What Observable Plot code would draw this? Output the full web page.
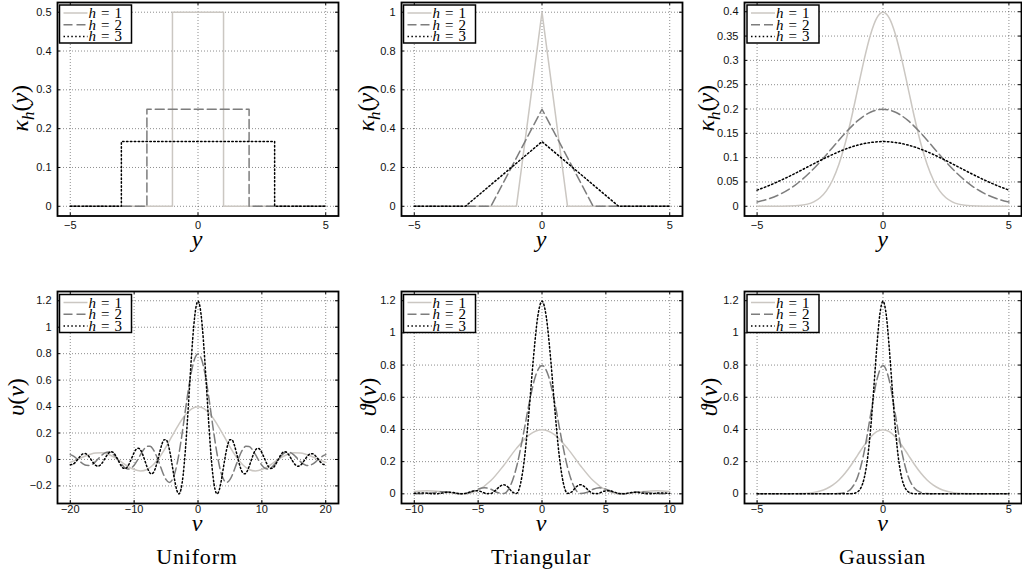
<!DOCTYPE html>
<html><head><meta charset="utf-8">
<script src="https://cdn.jsdelivr.net/npm/d3@7"></script>
<script src="https://cdn.jsdelivr.net/npm/@observablehq/plot@0.6"></script>
<style>
html,body{margin:0;padding:0;width:1022px;height:572px;overflow:hidden;background:#fff;}
#wrap{position:relative;width:1022px;height:572px;overflow:hidden;}
</style></head><body><div id="wrap"></div>
<script>
// ---------- DATA ----------
const bandwidths = ["1", "2", "3"];
const columnTitles = ["Uniform", "Triangular", "Gaussian"];

// Top row: kernels kappa_h(y)
const kerU_x1 = [-5,-1,-1,1,1,5],  kerU_v1 = [0,0,0.5,0.5,0,0];
const kerU_x2 = [-5,-2,-2,2,2,5],  kerU_v2 = [0,0,0.25,0.25,0,0];
const kerU_x3 = [-5,-3,-3,3,3,5],  kerU_v3 = [0,0,0.1667,0.1667,0,0];

const kerT_x1 = [-5,-1,0,1,5], kerT_v1 = [0,0,1,0,0];
const kerT_x2 = [-5,-2,0,2,5], kerT_v2 = [0,0,0.5,0,0];
const kerT_x3 = [-5,-3,0,3,5], kerT_v3 = [0,0,0.3333,0,0];

const kerG_x1 = [-5,-4.5,-4,-3.75,-3.5,-3.25,-3,-2.75,-2.5,-2.25,-2,-1.75,-1.5,-1.25,-1,-0.75,-0.5,-0.25,0,0.25,0.5,0.75,1,1.25,1.5,1.75,2,2.25,2.5,2.75,3,3.25,3.5,3.75,4,4.5,5];
const kerG_v1 = [0.0000,0.0000,0.0001,0.0004,0.0009,0.0020,0.0044,0.0091,0.0175,0.0317,0.0540,0.0863,0.1295,0.1826,0.2420,0.3011,0.3521,0.3867,0.3989,0.3867,0.3521,0.3011,0.2420,0.1826,0.1295,0.0863,0.0540,0.0317,0.0175,0.0091,0.0044,0.0020,0.0009,0.0004,0.0001,0.0000,0.0000];
const kerG_x2 = [-5,-4.5,-4,-3.5,-3,-2.5,-2,-1.5,-1,-0.5,0,0.5,1,1.5,2,2.5,3,3.5,4,4.5,5];
const kerG_v2 = [0.0088,0.0159,0.0270,0.0431,0.0648,0.0913,0.1210,0.1506,0.1760,0.1933,0.1995,0.1933,0.1760,0.1506,0.1210,0.0913,0.0648,0.0431,0.0270,0.0159,0.0088];
const kerG_x3 = [-5,-4.5,-4,-3.5,-3,-2.5,-2,-1.5,-1,-0.5,0,0.5,1,1.5,2,2.5,3,3.5,4,4.5,5];
const kerG_v3 = [0.0332,0.0432,0.0547,0.0673,0.0807,0.0940,0.1065,0.1174,0.1258,0.1311,0.1330,0.1311,0.1258,0.1174,0.1065,0.0940,0.0807,0.0673,0.0547,0.0432,0.0332];

// Bottom row: transforms theta(nu)
const ftU_x1 = [-20,-19,-18,-17,-16,-15,-14,-13,-12,-11,-10,-9,-8,-7,-6,-5,-4,-3,-2,-1,0,1,2,3,4,5,6,7,8,9,10,11,12,13,14,15,16,17,18,19,20];
const ftU_v1 = [-0.0217,-0.0032,0.0183,0.0375,0.0493,0.0499,0.0374,0.0132,-0.0186,-0.0512,-0.0765,-0.0867,-0.0755,-0.0400,0.0188,0.0955,0.1814,0.2653,0.3357,0.3825,0.3989,0.3825,0.3357,0.2653,0.1814,0.0955,0.0188,-0.0400,-0.0755,-0.0867,-0.0765,-0.0512,-0.0186,0.0132,0.0374,0.0499,0.0493,0.0375,0.0183,-0.0032,-0.0217];
const ftU_x2 = [-20,-19.5,-19,-18.5,-18,-17.5,-17,-16.5,-16,-15.5,-15,-14.5,-14,-13.5,-13,-12.5,-12,-11.5,-11,-10.5,-10,-9.5,-9,-8.5,-8,-7.5,-7,-6.5,-6,-5.5,-5,-4.5,-4,-3.5,-3,-2.5,-2,-1.5,-1,-0.5,0,0.5,1,1.5,2,2.5,3,3.5,4,4.5,5,5.5,6,6.5,7,7.5,8,8.5,9,9.5,10,10.5,11,11.5,12,12.5,13,13.5,14,14.5,15,15.5,16,16.5,17,17.5,18,18.5,19,19.5,20];
const ftU_v2 = [0.0364,0.0248,0.0063,-0.0148,-0.0333,-0.0445,-0.0451,-0.0344,-0.0144,0.0106,
0.0346,0.0514,0.0565,0.0475,0.0258,-0.0042,-0.0357,-0.0608,-0.0725,-0.0668,
-0.0434,-0.0063,0.0365,0.0750,0.0987,0.0998,0.0749,0.0264,-0.0372,-0.1024,
-0.1530,-0.1733,-0.1510,-0.0800,0.0375,0.1910,0.3628,0.5306,0.6714,0.7650,
0.7979,
0.7650,0.6714,0.5306,0.3628,0.1910,0.0375,-0.0800,-0.1510,-0.1733,-0.1530,
-0.1024,-0.0372,0.0264,0.0749,0.0998,0.0987,0.0750,0.0365,-0.0063,-0.0434,
-0.0668,-0.0725,-0.0608,-0.0357,-0.0042,0.0258,0.0475,0.0565,0.0514,0.0346,
0.0106,-0.0144,-0.0344,-0.0451,-0.0445,-0.0333,-0.0148,0.0063,0.0248,0.0364];
const ftU_x3 = [-20,-19.667,-19.333,-19,-18.667,-18.333,-18,-17.667,-17.333,-17,-16.667,-16.333,-16,-15.667,-15.333,-15,-14.667,-14.333,-14,-13.667,-13.333,-13,-12.667,-12.333,-12,-11.667,-11.333,-11,-10.667,-10.333,-10,-9.667,-9.333,-9,-8.667,-8.333,-8,-7.667,-7.333,-7,-6.667,-6.333,-6,-5.667,-5.333,-5,-4.667,-4.333,-4,-3.667,-3.333,-3,-2.667,-2.333,-2,-1.667,-1.333,-1,-0.667,-0.333,
0,0.333,0.667,1,1.333,1.667,2,2.333,2.667,3,3.333,3.667,4,4.333,4.667,5,5.333,5.667,6,6.333,6.667,7,7.333,7.667,8,8.333,8.667,9,9.333,9.667,10,10.333,10.667,11,11.333,11.667,12,12.333,12.667,13,13.333,13.667,14,14.333,14.667,15,15.333,15.667,16,16.333,16.667,17,17.333,17.667,18,18.333,18.667,19,19.333,19.667,20];
const ftU_v3 = [-0.0394,-0.0382,-0.0274,-0.0094,0.0116,0.0305,0.0424,0.0442,0.0351,0.0169,
-0.0063,-0.0289,-0.0452,-0.0508,-0.0440,-0.0259,-0.0005,0.0262,0.0477,0.0582,
0.0546,0.0372,0.0094,-0.0222,-0.0499,-0.0667,-0.0677,-0.0517,-0.0215,0.0159,
0.0519,0.0772,0.0847,0.0713,0.0387,-0.0064,-0.0535,-0.0911,-0.1088,-0.1003,
-0.0651,-0.0095,0.0548,0.1124,0.1480,0.1497,0.1123,0.0396,-0.0557,-0.1535,
-0.2295,-0.2600,-0.2264,-0.1200,0.0563,0.2865,0.5441,0.7959,1.0071,1.1476,
1.1968,
1.1476,1.0071,0.7959,0.5441,0.2865,0.0563,-0.1200,-0.2264,-0.2600,
-0.2295,-0.1535,-0.0557,0.0396,0.1123,0.1497,0.1480,0.1124,0.0548,-0.0095,
-0.0651,-0.1003,-0.1088,-0.0911,-0.0535,-0.0064,0.0387,0.0713,0.0847,0.0772,
0.0519,0.0159,-0.0215,-0.0517,-0.0677,-0.0667,-0.0499,-0.0222,0.0094,0.0372,
0.0546,0.0582,0.0477,0.0262,-0.0005,-0.0259,-0.0440,-0.0508,-0.0452,-0.0289,
-0.0063,0.0169,0.0351,0.0442,0.0424,0.0305,0.0116,-0.0094,-0.0274,-0.0382,-0.0394];

const ftT_x1 = [-10,-9,-8,-7,-6,-5,-4,-3,-2,-1,0,1,2,3,4,5,6,7,8,9,10];
const ftT_v1 = [0.0147,0.0188,0.0143,0.0040,0.0009,0.0229,0.0825,0.1764,0.2825,0.3668,0.3989,0.3668,0.2825,0.1764,0.0825,0.0229,0.0009,0.0040,0.0143,0.0188,0.0147];
const ftT_x2 = [-10,-9.5,-9,-8.5,-8,-7.5,-7,-6.5,-6,-5.5,-5,-4.5,-4,-3.5,-3,-2.5,-2,-1.5,-1,-0.5,0,0.5,1,1.5,2,2.5,3,3.5,4,4.5,5,5.5,6,6.5,7,7.5,8,8.5,9,9.5,10];
const ftT_v2 = [0.0024,0.0000,0.0017,0.0070,0.0122,0.0125,0.0070,0.0009,0.0017,0.0131,0.0293,0.0377,0.0286,0.0080,0.0018,0.0457,0.1649,0.3528,0.5650,0.7336,
0.7979,
0.7336,0.5650,0.3528,0.1649,0.0457,0.0018,0.0080,0.0286,0.0377,0.0293,0.0131,0.0017,0.0009,0.0070,0.0125,0.0122,0.0070,0.0017,0.0000,0.0024];
const ftT_x3 = [-10,-9.667,-9.333,-9,-8.667,-8.333,-8,-7.667,-7.333,-7,-6.667,-6.333,-6,-5.667,-5.333,-5,-4.667,-4.333,-4,-3.667,-3.333,-3,-2.667,-2.333,-2,-1.667,-1.333,-1,-0.667,-0.333,
0,0.333,0.667,1,1.333,1.667,2,2.333,2.667,3,3.333,3.667,4,4.333,4.667,5,5.333,5.667,6,6.333,6.667,7,7.333,7.667,8,8.333,8.667,9,9.333,9.667,10];
const ftT_v3 = [0.0023,0.0050,0.0060,0.0042,0.0013,0.0000,0.0024,0.0069,0.0099,0.0084,0.0035,0.0001,0.0025,0.0106,0.0183,0.0187,0.0105,0.0013,0.0026,0.0197,0.0440,0.0565,0.0428,0.0120,0.0026,0.0686,0.2474,0.5293,0.8474,1.1004,
1.1968,
1.1004,0.8474,0.5293,0.2474,0.0686,0.0026,0.0120,0.0428,0.0565,0.0440,0.0197,0.0026,0.0013,0.0105,0.0187,0.0183,0.0106,0.0025,0.0001,0.0035,0.0084,0.0099,0.0069,0.0024,0.0000,0.0013,0.0042,0.0060,0.0050,0.0023];

const ftG_x1 = [-5,-4.5,-4,-3.75,-3.5,-3.25,-3,-2.75,-2.5,-2.25,-2,-1.75,-1.5,-1.25,-1,-0.75,-0.5,-0.25,0,0.25,0.5,0.75,1,1.25,1.5,1.75,2,2.25,2.5,2.75,3,3.25,3.5,3.75,4,4.5,5];
const ftG_v1 = [0.0000,0.0000,0.0001,0.0004,0.0009,0.0020,0.0044,0.0091,0.0175,0.0317,0.0540,0.0863,0.1295,0.1826,0.2420,0.3011,0.3521,0.3867,0.3989,0.3867,0.3521,0.3011,0.2420,0.1826,0.1295,0.0863,0.0540,0.0317,0.0175,0.0091,0.0044,0.0020,0.0009,0.0004,0.0001,0.0000,0.0000];
const ftG_x2 = [-5,-4,-3,-2.5,-2,-1.75,-1.5,-1.25,-1,-0.75,-0.5,-0.25,0,0.25,0.5,0.75,1,1.25,1.5,1.75,2,2.5,3,4,5];
const ftG_v2 = [0,0,0,0.0000,0.0003,0.0017,0.0089,0.0351,0.1080,0.2591,0.4839,0.7041,0.7979,0.7041,0.4839,0.2591,0.1080,0.0351,0.0089,0.0017,0.0003,0.0000,0,0,0];
const ftG_x3 = [-5,-4,-3,-2,-1.5,-1.25,-1.125,-1,-0.875,-0.75,-0.625,-0.5,-0.375,-0.25,-0.125,0,0.125,0.25,0.375,0.5,0.625,0.75,0.875,1,1.125,1.25,1.5,2,3,4,5];
const ftG_v3 = [0,0,0,0,0.0000,0.0011,0.0040,0.0133,0.0382,0.0953,0.2063,0.3886,0.6356,0.9034,1.1156,1.1968,1.1156,0.9034,0.6356,0.3886,0.2063,0.0953,0.0382,0.0133,0.0040,0.0011,0.0000,0,0,0,0];

// Tick values
const xTicks5 = [-5,0,5], xTicks10 = [-10,-5,0,5,10], xTicks20 = [-20,-10,0,10,20];
const yTicksUK = [0,0.1,0.2,0.3,0.4,0.5];
const yTicksTK = [0,0.2,0.4,0.6,0.8,1];
const yTicksGK = [0,0.05,0.1,0.15,0.2,0.25,0.3,0.35,0.4];
const yTicksUF = [-0.2,0,0.2,0.4,0.6,0.8,1,1.2];
const yTicksF = [0,0.2,0.4,0.6,0.8,1,1.2];

// ---------- LAYOUT / STYLE ----------
const colLeft = [56.5, 400.5, 744], colWidth = [281, 281, 277];
const rowTop = [1.5, 291], rowHeight = [213.5, 212];
const lineStyles = [
  {stroke: "#cbc7c2", dash: null},
  {stroke: "#7d7d7d", dash: "9,4"},
  {stroke: "#000000", dash: "1.5,2.4"}
];
const serif = "'Liberation Serif','Times New Roman',serif";
const table = (xs, vs) => xs.map((x, i) => ({x, v: vs[i]}));
const fmt = d => (d < 0 ? "\u2212" : "") + String(Math.abs(d));

const panels = [
  {xs:[kerU_x1,kerU_x2,kerU_x3], vs:[kerU_v1,kerU_v2,kerU_v3], xd:[-5.5,5.5], yd:[-0.025,0.525], xt:xTicks5, yt:yTicksUK, curve:"linear", yl:[["κ","i"],["h","sub"],["(",""],["y","i"],[")",""]], xl:"y", yoff:-37},
  {xs:[kerT_x1,kerT_x2,kerT_x3], vs:[kerT_v1,kerT_v2,kerT_v3], xd:[-5.5,5.5], yd:[-0.05,1.05], xt:xTicks5, yt:yTicksTK, curve:"linear", yl:[["κ","i"],["h","sub"],["(",""],["y","i"],[")",""]], xl:"y", yoff:-35},
  {xs:[kerG_x1,kerG_x2,kerG_x3], vs:[kerG_v1,kerG_v2,kerG_v3], xd:[-5.5,5.5], yd:[-0.02,0.419], xt:xTicks5, yt:yTicksGK, curve:"monotone-x", yl:[["κ","i"],["h","sub"],["(",""],["y","i"],[")",""]], xl:"y", yoff:-38},
  {xs:[ftU_x1,ftU_x2,ftU_x3], vs:[ftU_v1,ftU_v2,ftU_v3], xd:[-22,22], yd:[-0.333,1.27], xt:xTicks20, yt:yTicksUF, curve:"monotone-x", yl:[["υ","i"],["(",""],["ν","i"],[")",""]], xl:"ν", yoff:-41},
  {xs:[ftT_x1,ftT_x2,ftT_x3], vs:[ftT_v1,ftT_v2,ftT_v3], xd:[-11,11], yd:[-0.06,1.257], xt:xTicks10, yt:yTicksF, curve:"monotone-x", yl:[["ϑ","i"],["(",""],["ν","i"],[")",""]], xl:"ν", yoff:-33},
  {xs:[ftG_x1,ftG_x2,ftG_x3], vs:[ftG_v1,ftG_v2,ftG_v3], xd:[-5.5,5.5], yd:[-0.06,1.257], xt:xTicks5, yt:yTicksF, curve:"monotone-x", yl:[["ϑ","i"],["(",""],["ν","i"],[")",""]], xl:"ν", yoff:-35}
];

const wrap = document.getElementById("wrap");
const ml = 48, mr = 6, mt = 6, mb = 26;

panels.forEach((p, i) => {
  const col = i % 3, row = Math.floor(i / 3);
  const L = colLeft[col], W = colWidth[col], T = rowTop[row], H = rowHeight[row];
  const marks = [
    Plot.gridX({ticks: p.xt, stroke: "#000", strokeOpacity: 0.5, strokeWidth: 0.9, strokeDasharray: "1,2"}),
    Plot.gridY({ticks: p.yt, stroke: "#000", strokeOpacity: 0.5, strokeWidth: 0.9, strokeDasharray: "1,2"})
  ];
  p.xs.forEach((xs, j) => {
    marks.push(Plot.line(table(xs, p.vs[j]), {
      x: "x", y: "v", curve: p.curve,
      stroke: lineStyles[j].stroke, strokeWidth: 1.5,
      strokeDasharray: lineStyles[j].dash
    }));
  });
  marks.push(
    Plot.tickX(p.xt, {x: d => d, insetTop: H - 3, stroke: "#000"}),
    Plot.tickX(p.xt, {x: d => d, insetBottom: H - 3, stroke: "#000"}),
    Plot.tickY(p.yt, {y: d => d, insetRight: W - 3, stroke: "#000"}),
    Plot.tickY(p.yt, {y: d => d, insetLeft: W - 3, stroke: "#000"}),
    Plot.frame({stroke: "#000", strokeWidth: 1.8}),
    Plot.axisX({ticks: p.xt, tickSize: 0, tickPadding: row === 0 ? 5 : 2, tickFormat: fmt, fill: "#111"}),
    Plot.axisY({ticks: p.yt, tickSize: 0, tickPadding: 6, tickFormat: fmt, fill: "#111"})
  );
  const svg = Plot.plot({
    width: ml + W + mr, height: mt + H + mb,
    marginLeft: ml, marginRight: mr, marginTop: mt, marginBottom: mb,
    x: {domain: p.xd, label: null},
    y: {domain: p.yd, label: null},
    style: {fontFamily: "'Liberation Sans', Arial, sans-serif", fontSize: "11px", background: "transparent", overflow: "visible", maxWidth: "none"},
    marks
  });
  svg.style.position = "absolute";
  svg.style.left = (L - ml) + "px";
  svg.style.top = (T - mt) + "px";
  wrap.appendChild(svg);
});

// ---------- overlay: labels, legends, titles ----------
const ov = d3.select(wrap).append("svg")
  .attr("width", 1022).attr("height", 572)
  .style("position", "absolute").style("left", "0px").style("top", "0px")
  .style("overflow", "visible").style("pointer-events", "none");

panels.forEach((p, i) => {
  const col = i % 3, row = Math.floor(i / 3);
  const L = colLeft[col], W = colWidth[col], T = rowTop[row], H = rowHeight[row];
  const cx = L + W / 2;
  // y label
  const t = ov.append("text")
    .attr("transform", `translate(${L + p.yoff},${T + H / 2}) rotate(-90)`)
    .attr("y", 8).attr("text-anchor", "middle")
    .attr("font-family", serif).attr("font-size", 24).attr("fill", "#000");
  let prevSub = false;
  p.yl.forEach(([s, st]) => {
    const ts = t.append("tspan").text(s);
    if (st === "i") ts.attr("font-style", "italic");
    if (st === "sub") { ts.attr("font-style", "italic").attr("font-size", 17).attr("dy", 6); }
    if (prevSub) ts.attr("dy", -6);
    prevSub = st === "sub";
  });
  // x label
  ov.append("text")
    .attr("x", cx).attr("y", T + H + (row === 0 ? 32 : 28))
    .attr("text-anchor", "middle").attr("font-family", serif).attr("font-style", "italic")
    .attr("font-size", 24).attr("fill", "#000").text(p.xl);
  // legend
  const g = ov.append("g").attr("transform", `translate(${L + 3},${T + 3.5})`);
  g.append("rect").attr("width", 72).attr("height", 38)
    .attr("fill", "#fff").attr("stroke", "#000").attr("stroke-width", 1.5);
  bandwidths.forEach((b, j) => {
    const yy = 8 + j * 11.7;
    g.append("line").attr("x1", 4).attr("x2", 28).attr("y1", yy).attr("y2", yy)
      .attr("stroke", lineStyles[j].stroke).attr("stroke-width", 1.5)
      .attr("stroke-dasharray", lineStyles[j].dash);
    const tx = g.append("text").attr("x", 29).attr("y", yy + 5)
      .attr("font-family", serif).attr("font-size", 15).attr("fill", "#000");
    tx.append("tspan").attr("font-style", "italic").text("h");
    tx.append("tspan").text("\u2004=\u2004" + b);
  });
});

columnTitles.forEach((s, c) => {
  ov.append("text")
    .attr("x", colLeft[c] + colWidth[c] / 2).attr("y", 564)
    .attr("text-anchor", "middle").attr("font-family", serif)
    .attr("font-size", 22).attr("letter-spacing", 0.8).attr("fill", "#000").text(s);
});
</script></body></html>
